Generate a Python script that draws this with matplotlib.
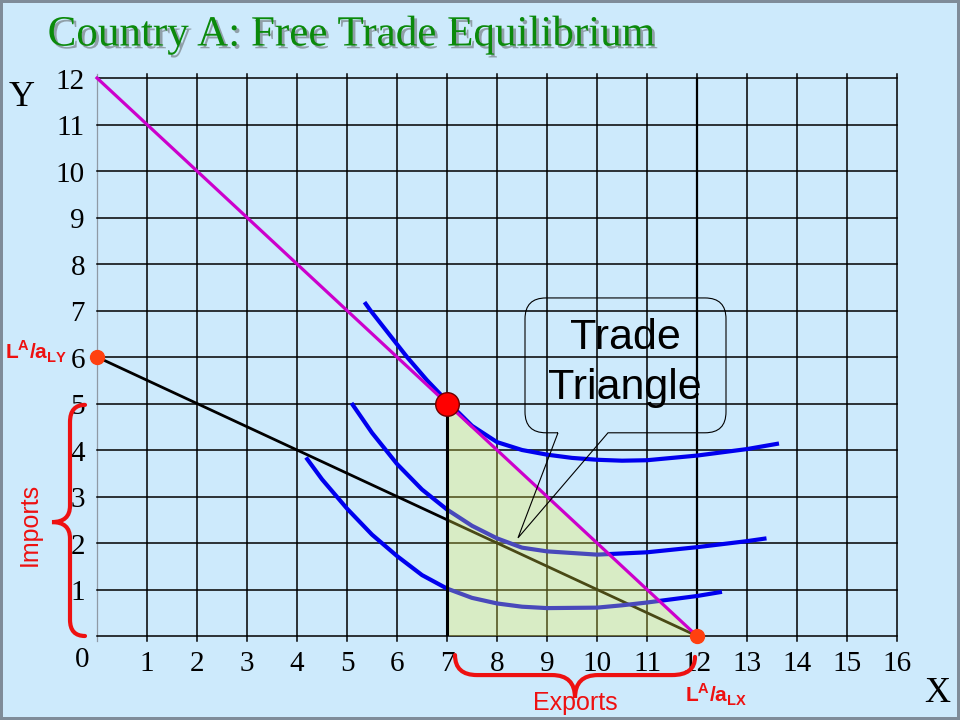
import matplotlib
matplotlib.use("Agg")
import matplotlib.pyplot as plt
from matplotlib.path import Path
from matplotlib.patches import PathPatch, Polygon
import matplotlib.patheffects as pe

plt.rcParams['mathtext.fontset'] = 'custom'
plt.rcParams['mathtext.rm'] = 'Liberation Sans'
plt.rcParams['mathtext.bf'] = 'Liberation Sans:bold'

# ---------------- data ----------------
x_grid = list(range(0, 17))
y_grid = list(range(0, 13))
x_tick_labels = [str(i) for i in range(1, 17)]
y_tick_labels = [str(i) for i in range(1, 13)]

# terms-of-trade (free trade) price line
tot_x = [0, 12]
tot_y = [12, 0]
# production possibility frontier
ppf_x = [0, 12]
ppf_y = [6, 0]
# production point and consumption point
prod_pt = (12, 0)
ly_pt = (0, 6)
cons_pt = (7, 5)
# trade triangle
tri_x = [7, 7, 12]
tri_y = [5, 0, 0]

# indifference curves
ic_top_x = [5.35, 5.47, 6.2, 6.6, 7.0, 7.5, 8.0, 8.5, 9.0, 9.5, 10.0, 10.5, 11.0, 12.0, 13.0, 13.64]
ic_top_y = [7.18, 7.00, 6.0, 5.5, 5.05, 4.52, 4.17, 4.00, 3.90, 3.83, 3.79, 3.77, 3.78, 3.88, 4.02, 4.14]
ic_mid_x = [5.09, 5.5, 6.0, 6.5, 7.0, 7.5, 8.0, 8.5, 9.0, 10.0, 11.0, 12.0, 13.0, 13.39]
ic_mid_y = [5.01, 4.37, 3.70, 3.15, 2.72, 2.37, 2.10, 1.90, 1.82, 1.75, 1.80, 1.91, 2.04, 2.10]
ic_low_x = [4.18, 4.5, 5.0, 5.5, 6.0, 6.5, 7.0, 7.5, 8.0, 8.5, 9.0, 10.0, 10.5, 11.0, 12.0, 12.5]
ic_low_y = [3.84, 3.37, 2.74, 2.18, 1.72, 1.31, 1.02, 0.82, 0.70, 0.63, 0.60, 0.61, 0.66, 0.72, 0.86, 0.95]

# ---------------- figure ----------------
BG = '#cdeafc'
fig = plt.figure(figsize=(9.6, 7.2), dpi=100, facecolor=BG)
fig.patch.set_edgecolor('#7f8c99')
fig.patch.set_linewidth(3)
ax = fig.add_axes([97 / 960, 84 / 720, 800 / 960, 558 / 720])
ax.set_xlim(0, 16)
ax.set_ylim(0, 12)
ax.axis('off')

serif = 'Liberation Serif'
sans = 'Liberation Sans'
RED = '#ee1111'

# grid
for xv in x_grid:
    col = '#8f9aa5' if xv == 0 else 'black'
    lw = 0.9 if xv == 0 else 1.1
    ax.plot([xv, xv], [-0.1, 12.08], color=col, lw=lw, zorder=1, clip_on=False)
for yv in y_grid:
    ax.plot([0, 16], [yv, yv], color='black', lw=1.1, zorder=1, clip_on=False)

# tick labels
for i, lab in enumerate(x_tick_labels, start=1):
    ax.text(i, -0.6, lab, ha='center', va='center', fontsize=21, family=serif, clip_on=False)
for i, lab in enumerate(y_tick_labels, start=1):
    ax.text(-0.24, i - 0.08, lab, ha='right', va='center', fontsize=21, family=serif, clip_on=False)
ax.text(-0.3, -0.52, '0', ha='center', va='center', fontsize=21, family=serif, clip_on=False)

# curves
ax.plot(ppf_x, ppf_y, color='black', lw=2.0, zorder=3, clip_on=False)
for xs, ys in [(ic_top_x, ic_top_y), (ic_mid_x, ic_mid_y), (ic_low_x, ic_low_y)]:
    ax.plot(xs, ys, color='#0000ee', lw=3.0, zorder=3, solid_capstyle='butt',
            solid_joinstyle='round', clip_on=False)

# trade triangle
ax.add_patch(Polygon(list(zip(tri_x, tri_y)), closed=True, facecolor='#f4f348',
                     edgecolor='none', alpha=0.3, zorder=4))
ax.plot([tri_x[0], tri_x[1]], [tri_y[0], tri_y[1]], color='black', lw=2.2, zorder=5)
ax.plot([12, 12], [0, 12], color='black', lw=1.6, zorder=1)

# price line
ax.plot(tot_x, tot_y, color='#cc00cc', lw=2.3, zorder=6, clip_on=False)

# points
ax.plot(*ly_pt, 'o', color='#ff4010', ms=10, zorder=7, clip_on=False)
ax.plot(*prod_pt, 'o', color='#ff4010', ms=10, zorder=7, clip_on=False)
ax.plot(*cons_pt, 'o', color='#ff0000', mec='#6b0000', mew=1.0, ms=17, zorder=8, clip_on=False)

# callout box
L, R, T, B = 8.56, 12.58, 7.27, 4.37
rx, ry = 0.42, 0.45
b1, b2 = 9.22, 10.22
tip = (8.42, 2.11)
verts = [(b1, B), tip, (b2, B), (R - rx, B), (R, B), (R, B + ry), (R, T - ry), (R, T), (R - rx, T),
         (L + rx, T), (L, T), (L, T - ry), (L, B + ry), (L, B), (L + rx, B), (b1, B)]
codes = [Path.MOVETO, Path.LINETO, Path.LINETO, Path.LINETO, Path.CURVE3, Path.CURVE3, Path.LINETO,
         Path.CURVE3, Path.CURVE3, Path.LINETO, Path.CURVE3, Path.CURVE3, Path.LINETO, Path.CURVE3,
         Path.CURVE3, Path.LINETO]
ax.add_patch(PathPatch(Path(verts, codes), facecolor='none', edgecolor='black', lw=0.8, zorder=9))
ax.text(10.56, 5.87, 'Trade\nTriangle', ha='center', va='center', fontsize=31, family=sans,
        linespacing=1.3, zorder=10)

# braces
bv = [(-0.24, 4.97), (-0.54, 4.97), (-0.54, 4.6), (-0.54, 2.8), (-0.54, 2.45), (-0.9, 2.45),
      (-0.54, 2.45), (-0.54, 2.1), (-0.54, 0.35), (-0.54, 0.0), (-0.24, 0.0)]
bc = [Path.MOVETO, Path.CURVE3, Path.CURVE3, Path.LINETO, Path.CURVE3, Path.CURVE3,
      Path.CURVE3, Path.CURVE3, Path.LINETO, Path.CURVE3, Path.CURVE3]
ax.add_patch(PathPatch(Path(bv, bc), facecolor='none', edgecolor=RED, lw=3, clip_on=False, zorder=9,
                       capstyle='round'))
ev = [(7.16, -0.41), (7.16, -0.84), (7.6, -0.84), (9.1, -0.84), (9.56, -0.84), (9.56, -1.33),
      (9.56, -0.84), (10.02, -0.84), (11.5, -0.84), (11.96, -0.84), (11.96, -0.45)]
ax.add_patch(PathPatch(Path(ev, bc), facecolor='none', edgecolor=RED, lw=3, clip_on=False, zorder=9,
                       capstyle='round'))

# figure-level text
fig.text(22 / 960, 1 - 97 / 720, 'Y', ha='center', va='center', fontsize=26, family=serif)
fig.text(937 / 960, 1 - 693 / 720, 'X', ha='center', va='center', fontsize=26, family=serif)
fig.text(5 / 960, 1 - 352 / 720, r'$\mathbf{L}^{\mathbf{A}}\mathbf{/a}_{\mathbf{LY}}$',
         ha='left', va='center', fontsize=15, color=RED)
fig.text(685 / 960, 1 - 695 / 720, r'$\mathbf{L}^{\mathbf{A}}\mathbf{/a}_{\mathbf{LX}}$',
         ha='left', va='center', fontsize=15, color=RED)
fig.text(30 / 960, 1 - 524 / 720, 'Imports', rotation=90, ha='center', va='center',
         fontsize=18, family=sans, color=RED)
fig.text(575 / 960, 1 - 703 / 720, 'Exports', ha='center', va='center',
         fontsize=18, family=sans, color=RED)
fig.text(351 / 960, 1 - 35 / 720, 'Country A: Free Trade Equilibrium', ha='center', va='center',
         fontsize=31, family=serif, color='#0b8a0b',
         path_effects=[pe.withSimplePatchShadow(offset=(2, -2), shadow_rgbFace='#555555', alpha=0.5)])

fig.savefig('out.png', dpi=100, facecolor=BG, edgecolor=fig.patch.get_edgecolor())
